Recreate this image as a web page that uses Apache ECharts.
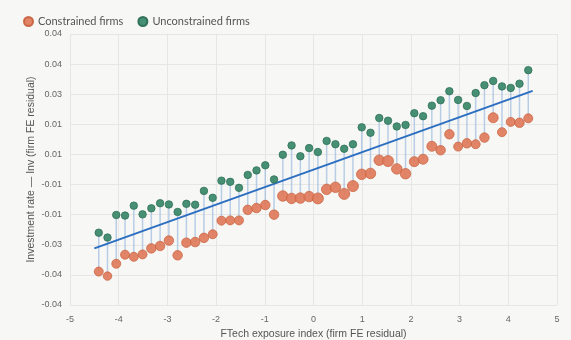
<!DOCTYPE html>
<html>
<head>
<meta charset="utf-8">
<script src="https://cdn.jsdelivr.net/npm/echarts@6/dist/echarts.min.js"></script>
<style>
html,body{margin:0;padding:0;background:#f7f7f5;}
#c{width:571px;height:340px;}
</style>
</head>
<body>
<div id="c"></div>
<script>
const xValues = [-4.41,-4.23,-4.05,-3.87,-3.69,-3.51,-3.33,-3.15,-2.97,-2.79,-2.61,-2.43,-2.25,-2.07,-1.89,-1.71,-1.53,-1.35,-1.17,-0.99,-0.81,-0.63,-0.45,-0.27,-0.09,0.09,0.27,0.45,0.63,0.81,0.99,1.17,1.35,1.53,1.71,1.89,2.07,2.25,2.43,2.61,2.79,2.97,3.15,3.33,3.51,3.69,3.87,4.05,4.23,4.41];
const unconstrained = [-0.0210,-0.0226,-0.0151,-0.0153,-0.0120,-0.0149,-0.0129,-0.0112,-0.0116,-0.0141,-0.0114,-0.0117,-0.0071,-0.0094,-0.0037,-0.0041,-0.0061,-0.0018,-0.0003,0.0014,-0.0033,0.0049,0.0080,0.0044,0.0071,0.0058,0.0095,0.0084,0.0069,0.0084,0.0140,0.0122,0.0171,0.0162,0.0143,0.0148,0.0187,0.0177,0.0212,0.0230,0.0260,0.0231,0.0211,0.0254,0.0280,0.0294,0.0276,0.0271,0.0285,0.0330];
const constrained = [-0.0339,-0.0354,-0.0313,-0.0283,-0.0290,-0.0282,-0.0262,-0.0254,-0.0236,-0.0285,-0.0243,-0.0241,-0.0227,-0.0215,-0.0170,-0.0169,-0.0169,-0.0134,-0.0128,-0.0118,-0.0150,-0.0088,-0.0096,-0.0095,-0.0090,-0.0096,-0.0066,-0.0059,-0.0081,-0.0055,-0.0016,-0.0013,0.0031,0.0028,0.0002,-0.0014,0.0026,0.0034,0.0077,0.0064,0.0117,0.0076,0.0087,0.0084,0.0106,0.0172,0.0124,0.0158,0.0155,0.0170];
const constrainedSize = [9,8.5,9,9,9,9,9.5,9.5,9.5,9.5,9.5,9.5,9.5,9,9,9,9,9.5,9.5,9.5,9.5,10.5,10.5,10.5,10.5,11,10.5,10.5,11,11,10.5,10.5,10.5,11,10.5,10.5,10,10,10,9.5,9.5,9,9.5,9,9.5,10,9,9,9.5,9];
const fitX = [-4.5, 4.5];
const fitY = [-0.0262, 0.0261];

const chart = echarts.init(document.getElementById('c'));
const pairData = xValues.map((x,i)=>[x, unconstrained[i], constrained[i]]);
chart.setOption({
  backgroundColor:'#f7f7f5',
  animation:false,
  legend:{
    left:18, top:11, itemWidth:9, itemHeight:9, itemGap:14,
    icon:'circle',
    textStyle:{color:'#555', fontSize:11, fontFamily:'Lato, sans-serif'},
    data:['Constrained firms','Unconstrained firms']
  },
  grid:{left:70, right:14, top:34, bottom:35, outerBoundsMode:'none', containLabel:false},
  xAxis:{
    type:'value', min:-5, max:5, interval:1,
    name:'FTech exposure index (firm FE residual)',
    nameLocation:'middle', nameGap:22,
    nameTextStyle:{color:'#555', fontSize:10.5, fontFamily:'Liberation Sans, Arial, sans-serif'},
    axisLine:{show:false}, axisTick:{show:false},
    axisLabel:{color:'#666', fontSize:9, margin:10, fontFamily:'Liberation Sans, Arial, sans-serif'},
    splitLine:{show:true, lineStyle:{color:'#e6e6e6', width:1}}
  },
  yAxis:{
    type:'value', min:-0.045, max:0.045, interval:0.01,
    name:'Investment rate — Inv (firm FE residual)',
    nameLocation:'middle', nameGap:33, nameMoveOverlap:false,
    nameTextStyle:{color:'#555', fontSize:10.5, fontFamily:'Liberation Sans, Arial, sans-serif'},
    axisLine:{show:false}, axisTick:{show:false},
    axisLabel:{color:'#666', fontSize:9, margin:8, fontFamily:'Liberation Sans, Arial, sans-serif',
      formatter:(v)=>v.toFixed(2)},
    splitLine:{show:true, lineStyle:{color:'#e6e6e6', width:1}}
  },
  series:[
    {
      type:'custom', name:'gap', silent:true, z:1,
      data:pairData,
      encode:{x:0, y:[1,2]},
      renderItem:(params, api)=>{
        const p1 = api.coord([api.value(0), api.value(1)]);
        const p2 = api.coord([api.value(0), api.value(2)]);
        return {type:'line', shape:{x1:p1[0], y1:p1[1], x2:p2[0], y2:p2[1]},
          style:{stroke:'rgba(150,185,222,0.65)', lineWidth:1.5}};
      }
    },
    {
      type:'line', name:'fit', z:2, silent:true,
      data:fitX.map((x,i)=>[x, fitY[i]]),
      symbol:'none', lineStyle:{color:'#2c6ec0', width:2}
    },
    {
      type:'scatter', name:'Constrained firms', z:3,
      data:xValues.map((x,i)=>[x, constrained[i], constrainedSize[i]]),
      symbolSize:(d)=>d[2],
      itemStyle:{color:'#e07a5a', borderColor:'#c8623f', borderWidth:0.8, opacity:0.92}
    },
    {
      type:'scatter', name:'Unconstrained firms', z:4,
      data:xValues.map((x,i)=>[x, unconstrained[i]]),
      symbolSize:7.5,
      itemStyle:{color:'#3d8a6c', borderColor:'#2c6e55', borderWidth:0.8, opacity:0.95}
    }
  ]
});
</script>
</body>
</html>
